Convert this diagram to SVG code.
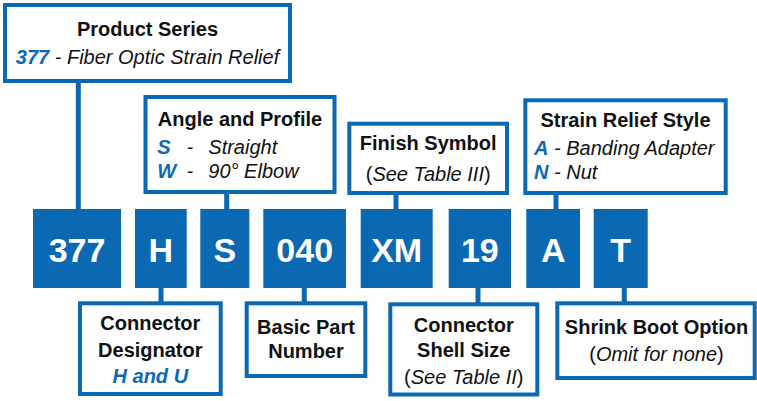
<svg xmlns="http://www.w3.org/2000/svg" width="757" height="401" viewBox="0 0 757 401">
<style>
.box{fill:#fff;stroke:#0b69b4;stroke-width:4}
.code{fill:#0b69b4}
.ln{stroke:#0b69b4;stroke-width:5;fill:none}
text{font-family:"Liberation Sans",Arial,sans-serif;fill:#111}
.t{font-size:20px;font-weight:bold;text-anchor:middle}
.i{font-size:20px;font-style:italic}
.b{fill:#0b69b4;font-weight:bold;font-style:italic}
.c{font-size:34px;font-weight:bold;fill:#fff;text-anchor:middle}
.m{text-anchor:middle}
</style>
<rect width="757" height="401" fill="#fff"/>
<g id="connectors">
<line class="ln" x1="78.3" y1="81" x2="78.3" y2="210"/>
<line class="ln" x1="226.7" y1="192" x2="226.7" y2="210"/>
<line class="ln" x1="396" y1="193" x2="396" y2="210"/>
<line class="ln" x1="556" y1="193" x2="556" y2="210"/>
<line class="ln" x1="161" y1="287" x2="161" y2="303"/>
<line class="ln" x1="304.3" y1="287" x2="304.3" y2="303"/>
<line class="ln" x1="478" y1="287" x2="478" y2="304"/>
<line class="ln" x1="624.3" y1="287" x2="624.3" y2="303"/>
</g>
<g id="product-series">
<rect class="box" x="5" y="5" width="285" height="76"/>
<text class="t" x="147.5" y="36">Product Series</text>
<text class="i m" x="147.5" y="64"><tspan class="b">377</tspan> - Fiber Optic Strain Relief</text>
</g>
<g id="angle-profile">
<rect class="box" x="145.5" y="97" width="189" height="95"/>
<text class="t" x="240" y="125.7">Angle and Profile</text>
<text class="i" x="157.3" y="154.3"><tspan class="b">S</tspan></text>
<text class="i" x="186.5" y="154.3">-</text>
<text class="i" x="208.3" y="154.3">Straight</text>
<text class="i" x="157.3" y="178.3"><tspan class="b">W</tspan></text>
<text class="i" x="186.5" y="178.3">-</text>
<text class="i" x="208.3" y="178.3">90° Elbow</text>
</g>
<g id="finish-symbol">
<rect class="box" x="349.3" y="123.7" width="157.7" height="69.3"/>
<text class="t" x="428.2" y="150">Finish Symbol</text>
<text class="i m" x="428.2" y="181"><tspan font-style="normal">(</tspan>See Table III<tspan font-style="normal">)</tspan></text>
</g>
<g id="strain-relief-style">
<rect class="box" x="525.3" y="100.3" width="200.4" height="92.7"/>
<text class="t" x="625.5" y="127.3">Strain Relief Style</text>
<text class="i" x="534" y="155"><tspan class="b">A</tspan> - Banding Adapter</text>
<text class="i" x="534" y="179.3"><tspan class="b">N</tspan> - Nut</text>
</g>
<g id="code-377"><rect class="code" x="33" y="209" width="88" height="79"/><text class="c" x="77" y="262.3">377</text></g>
<g id="code-H"><rect class="code" x="135" y="209" width="51.7" height="79"/><text class="c" x="160.9" y="262.3">H</text></g>
<g id="code-S"><rect class="code" x="200.3" y="209" width="49" height="79"/><text class="c" x="224.8" y="262.3">S</text></g>
<g id="code-040"><rect class="code" x="263.3" y="209" width="82.7" height="79"/><text class="c" x="304.7" y="262.3">040</text></g>
<g id="code-XM"><rect class="code" x="360.7" y="209" width="72" height="79"/><text class="c" x="396.7" y="262.3">XM</text></g>
<g id="code-19"><rect class="code" x="448.7" y="209" width="62.3" height="79"/><text class="c" x="479.8" y="262.3">19</text></g>
<g id="code-A"><rect class="code" x="526.3" y="209" width="53.7" height="79"/><text class="c" x="553.2" y="262.3">A</text></g>
<g id="code-T"><rect class="code" x="593.7" y="209" width="54" height="79"/><text class="c" x="620.7" y="262.3">T</text></g>
<g id="connector-designator">
<rect class="box" x="80" y="303.3" width="140.7" height="90.7"/>
<text class="t" x="150.3" y="330">Connector</text>
<text class="t" x="150.3" y="356.7">Designator</text>
<text class="i m b" x="150.3" y="383.3">H and U</text>
</g>
<g id="basic-part-number">
<rect class="box" x="246.7" y="303.3" width="118.6" height="72.7"/>
<text class="t" x="306" y="334.3">Basic Part</text>
<text class="t" x="306" y="358.3">Number</text>
</g>
<g id="connector-shell-size">
<rect class="box" x="390.3" y="304.3" width="147" height="90.2"/>
<text class="t" x="463.8" y="331.7">Connector</text>
<text class="t" x="463.8" y="357.3">Shell Size</text>
<text class="i m" x="463.8" y="384.3"><tspan font-style="normal">(</tspan>See Table II<tspan font-style="normal">)</tspan></text>
</g>
<g id="shrink-boot-option">
<rect class="box" x="557.3" y="303.3" width="197.4" height="74.7"/>
<text class="t" x="656.5" y="334.3">Shrink Boot Option</text>
<text class="i m" x="656.5" y="361"><tspan font-style="normal">(</tspan>Omit for none<tspan font-style="normal">)</tspan></text>
</g>
</svg>
